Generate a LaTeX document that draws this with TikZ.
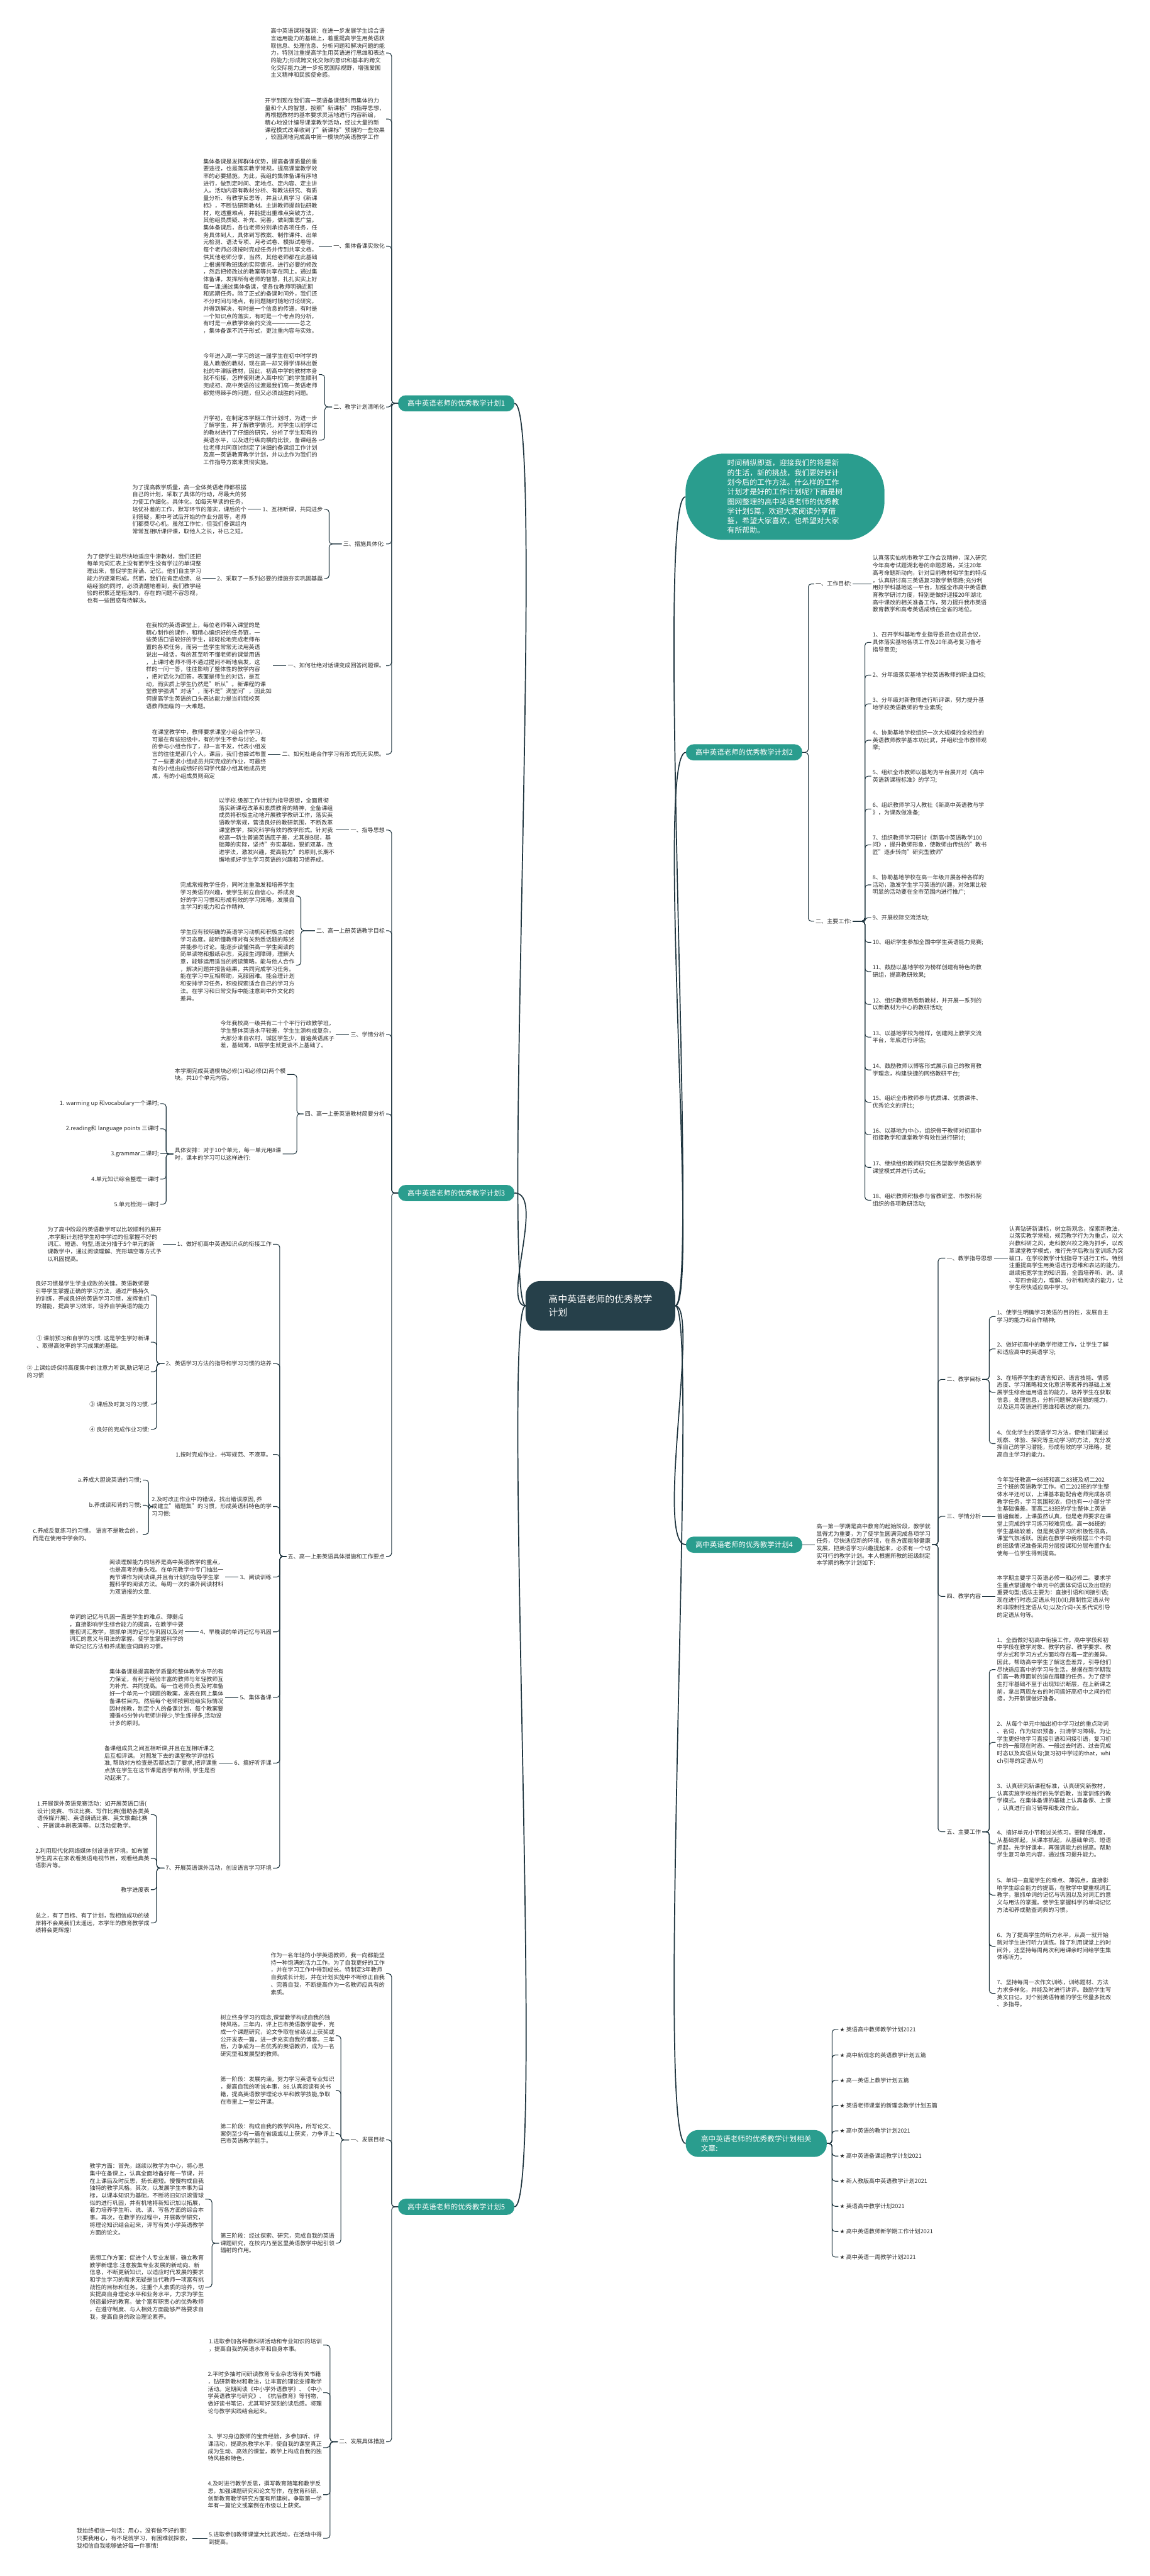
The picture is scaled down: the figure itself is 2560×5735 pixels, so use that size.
\documentclass[tikz,border=0pt]{standalone}
\usepackage{fontspec}
\setmainfont{Noto Sans CJK SC}
\newfontfamily\symfont{DejaVu Sans}
\definecolor{tealn}{RGB}{42,157,142}
\definecolor{darkn}{RGB}{38,64,74}
\definecolor{linec}{RGB}{30,52,62}
\definecolor{textc}{RGB}{45,45,45}
\newcommand\fs{\fontsize{12.7pt}{16.4pt}\selectfont}
\newcommand\fp{\fontsize{16pt}{20pt}\selectfont}
\newcommand\cnB[3]{\draw[lk] (#1) -- (#1 -| #2) -- (#3 -| #2) -- (#3);}
\newcommand\cnS[2]{\draw[lk] (#1) -- (#2);}
\tikzset{
  txt/.style={font=\fs, text=textc, inner xsep=3pt, inner ysep=1pt, align=left},
  plan/.style={fill=tealn, text=white, rounded corners=17pt, minimum width=259pt, minimum height=36pt, font=\fp, inner sep=0pt},
  lk/.style={draw=linec, line width=1.5pt, rounded corners=7pt},
  mainlk/.style={draw=linec, line width=2.4pt},
}
\begin{document}
\begin{tikzpicture}[x=1pt,y=-1pt]
\fill[white] (0,0) rectangle (2560,5735);
\useasboundingbox (0,0) rectangle (2560,5735);

% ---------------- central ----------------
\node[fill=darkn, text=white, rounded corners=32pt, minimum width=333pt, minimum height=110pt, align=left, font=\fontsize{21pt}{29pt}\selectfont] (c) at (1337,2907) {高中英语老师的优秀教学\\计划};

% ---------------- intro ----------------
\node[fill=tealn, text=white, rounded corners=85pt, minimum width=443pt, minimum height=192pt, align=left, font=\fontsize{16.6pt}{21.4pt}\selectfont] (intro) at (1748,1106) {时间稍纵即逝，迎接我们的将是新\\的生活，新的挑战，我们要好好计\\划今后的工作方法。什么样的工作\\计划才是好的工作计划呢?下面是树\\图网整理的高中英语老师的优秀教\\学计划5篇，欢迎大家阅读分享借\\鉴，希望大家喜欢，也希望对大家\\有所帮助。};

% ---------------- plan 1 ----------------
\node[plan] (p1) at (1016,898) {高中英语老师的优秀教学计划1};
\coordinate (t1) at (872,0);
\node[txt,anchor=east] (p1a) at (860,118) {高中英语课程强调：在进一步发展学生综合语\\言运用能力的基础上，着重提高学生用英语获\\取信息、处理信息、分析问题和解决问题的能\\力，特别注重提高学生用英语进行思维和表达\\的能力;形成跨文化交际的意识和基本的跨文\\化交际能力;进一步拓宽国际视野，增强爱国\\主义精神和民族使命感。};
\node[txt,anchor=east] (p1b) at (860,265) {开学到现在我们高一英语备课组利用集体的力\\量和个人的智慧，按照"新课标"的指导思想，\\再根据教材的基本要求灵活地进行内容新编，\\精心地设计编导课堂教学活动，经过大量的新\\课程模式改革收到了"新课标"预期的一些效果\\，较圆满地完成高中第一模块的英语教学工作};
\node[txt,anchor=east] (p1c) at (860,548) {一、集体备课实效化};
\node[txt,anchor=east] (p1c1) at (710,548) {集体备课是发挥群体优势，提高备课质量的重\\要途径，也是落实教学常规，提高课堂教学效\\率的必要措施。为此，我组的集体备课有序地\\进行，做到定时间、定地点、定内容、定主讲\\人。活动内容有教材分析、有教法研究、有质\\量分析、有教学反思等，并且认真学习《新课\\标》，不断钻研新教材。主讲教师提前钻研教\\材，吃透重难点，并能提出重难点突破方法，\\其他组员质疑、补充、完善，做到集思广益。\\集体备课后，各位老师分别承担各项任务，任\\务具体到人，具体到写教案、制作课件、出单\\元检测、语法专项、月考试卷、模拟试卷等。\\每个老师必须按时完成任务并传到共享文档，\\供其他老师分享，当然，其他老师都在此基础\\上根据所教班级的实际情况，进行必要的修改\\，然后把修改过的教案等共享在网上。通过集\\体备课，发挥所有老师的智慧，扎扎实实上好\\每一课;通过集体备课，使各位教师明确近期\\和远期任务。除了正式的备课时间外，我们还\\不分时间与地点，有问题随时随地讨论研究，\\并得到解决，有时是一个信息的传递，有时是\\一个知识点的落实，有时是一个考点的分析，\\有时是一点教学体会的交流——————总之\\，集体备课不流于形式，更注重内容与实效。};
\node[txt,anchor=east] (p1d) at (860,906) {二、教学计划清晰化};
\coordinate (t1d) at (723,0);
\node[txt,anchor=east] (p1d1) at (710,834) {今年进入高一学习的这一届学生在初中时学的\\是人教版的教材，现在高一却又得学译林出版\\社的牛津版教材，因此，初高中学的教材本身\\就不衔接，怎样使刚进入高中校门的学生顺利\\完成初、高中英语的过渡是我们高一英语老师\\都觉得棘手的问题，但又必须战胜的问题。};
\node[txt,anchor=east] (p1d2) at (710,980) {开学初，在制定本学期工作计划时，为进一步\\了解学生，并了解教学情况，对学生以前学过\\的教材进行了仔细的研究，分析了学生现有的\\英语水平，以及进行纵向横向比较，备课组各\\位老师共同商讨制定了详细的备课组工作计划\\及高一英语教育教学计划，并以此作为我们的\\工作指导方案来贯彻实施。};
\node[txt,anchor=east] (p1e) at (860,1211) {三、措施具体化:};
\coordinate (t1e) at (733,0);
\node[txt,anchor=east] (p1e1) at (722,1134) {1、互相听课，共同进步};
\node[txt,anchor=east] (p1e2) at (722,1288) {2、采取了一系列必要的措施夯实巩固基磊};
\node[txt,anchor=east] (p1e1a) at (552,1134) {为了提高教学质量，高一全体英语老师都根据\\自己的计划，采取了具体的行动，尽最大的努\\力使工作细化，具体化。如每天早读的任务，\\培优补差的工作，默写环节的落实，课后的个\\别答疑，期中考试后开始的作业分层等，老师\\们都费尽心机。虽然工作忙，但我们备课组内\\常常互相听课评课，取他人之长，补已之短。};
\node[txt,anchor=east] (p1e2a) at (451,1288) {为了使学生能尽快地适应牛津教材，我们还把\\每单元词汇表上没有而学生没有学过的单词整\\理出来，督促学生背诵、记忆。他们自主学习\\能力的逐渐形成。然而，我们在肯定成绩、总\\结经验的同时，必须清醒地看到，我们教学经\\验的积累还是粗浅的，存在的问题不容忽视，\\也有一些困惑有待解决。};
\node[txt,anchor=east] (p1f) at (860,1482) {一、如何杜绝对话课变成回答问题课。};
\node[txt,anchor=east] (p1f1) at (608,1482) {在我校的英语课堂上，每位老师带入课堂的是\\精心制作的课件，和精心编织好的任务链，一\\些英语口语较好的学生，能轻松地完成老师布\\置的各项任务，而另一些学生常常无法用英语\\说出一段话，有的甚至听不懂老师的课堂用语\\，上课时老师不得不通过提问不断地启发，这\\样的一问一答，往往影响了整体性的教学内容\\，把对话化为回答，表面是师生的对话，是互\\动，而实质上学生仍然是"听从"。新课程的课\\堂教学强调"对话"，而不是"满堂问"，因此如\\何提高学生英语的口头表达能力是当前我校英\\语教师面临的一大难题。};
\node[txt,anchor=east] (p1g) at (860,1679) {二、如何杜绝合作学习有形式而无实质。};
\node[txt,anchor=east] (p1g1) at (596,1679) {在课堂教学中，教师要求课堂小组合作学习，\\可是在有些班级中，有的学生不参与讨论，有\\的参与小组合作了，却一言不发，代表小组发\\言的往往是那几个人。课后，我们也尝试布置\\了一些要求小组成员共同完成的作业，可最终\\有的小组由成绩好的同学代替小组其他成员完\\成，有的小组成员则商定};

\foreach \n in {p1a,p1b,p1c,p1d,p1e,p1f,p1g} {\cnB{p1.west}{t1}{\n.east}}
\cnS{p1c.west}{p1c1.east}
\cnB{p1d.west}{t1d}{p1d1.east}
\cnB{p1d.west}{t1d}{p1d2.east}
\cnB{p1e.west}{t1e}{p1e1.east}
\cnB{p1e.west}{t1e}{p1e2.east}
\cnS{p1e1.west}{p1e1a.east}
\cnS{p1e2.west}{p1e2a.east}
\cnS{p1f.west}{p1f1.east}
\cnS{p1g.west}{p1g1.east}

% ---------------- plan 3 ----------------
\node[plan] (p3) at (1016,2656) {高中英语老师的优秀教学计划3};
\coordinate (t3) at (872,0);
\node[txt,anchor=east] (p3a) at (860,1848) {一、指导思想};
\node[txt,anchor=east] (p3a1) at (748,1848) {以学校.级部工作计划为指导思想，全面贯彻\\落实新课程改革和素质教育的精神，全备课组\\成员将积极主动地开展教学教研工作，落实英\\语教学常规，营造良好的教研氛围，不断改革\\课堂教学，探究科学有效的教学形式。针对我\\校高一新生普遍英语底子差，尤其是B层，基\\础薄的实际，坚持"夯实基础，狠抓双基，改\\进学法，激发兴趣，提高能力"的原则,长期不\\懈地抓好学生学习英语的兴趣和习惯养成。};
\node[txt,anchor=east] (p3b) at (860,2072) {二、高一上册英语教学目标};
\coordinate (t3b) at (670,0);
\node[txt,anchor=east] (p3b1) at (659,1995) {完成常规教学任务，同时注重激发和培养学生\\学习英语的兴趣，使学生树立自信心，养成良\\好的学习习惯和形成有效的学习策略，发展自\\主学习的能力和合作精神.};
\node[txt,anchor=east] (p3b2) at (659,2149) {学生应有较明确的英语学习动机和积极主动的\\学习态度。能听懂教师对有关熟悉话题的陈述\\并能参与讨论。能逐步读懂供高一学生阅读的\\简单读物和报纸杂志，克服生词障碍，理解大\\意，能够运用适当的阅读策略。能与他人合作\\，解决问题并报告结果，共同完成学习任务。\\能在学习中互相帮助，克服困难。能合理计划\\和安排学习任务，积极探索适合自己的学习方\\法。在学习和日常交际中能注意到中外文化的\\差异。};
\node[txt,anchor=east] (p3c) at (860,2303) {三、学情分析};
\node[txt,anchor=east] (p3c1) at (748,2303) {今年我校高一级共有二十个平行行政教学班，\\学生整体英语水平较差，学生生源构成复杂，\\大部分来自农村，城区学生少，普遍英语底子\\差，基础薄，B层学生就更谈不上基础了。};
\node[txt,anchor=east] (p3d) at (860,2480) {四、高一上册英语教材简要分析};
\coordinate (t3d) at (661,0);
\node[txt,anchor=west] (p3d1) at (386,2392) {本学期完成英语模块必修(1)和必修(2)两个模\\块。共10个单元内容。};
\node[txt,anchor=west] (p3d2) at (386,2569) {具体安排：对于10个单元，每一单元用8课\\时，课本的学习可以这样进行:};
\coordinate (t3d2) at (370,0);
\node[txt,anchor=east] (p3d2a) at (357,2457) {1. warming up 和vocabulary一个课时;};
\node[txt,anchor=east] (p3d2b) at (357,2513) {2.reading和 language points 三课时};
\node[txt,anchor=east] (p3d2c) at (357,2569) {3.grammar二课时;};
\node[txt,anchor=east] (p3d2d) at (357,2625) {4.单元知识综合整理一课时};
\node[txt,anchor=east] (p3d2e) at (357,2681) {5.单元检测一课时};
\node[txt,anchor=east] (p3e) at (860,3465) {五、高一上册英语具体措施和工作要点};
\coordinate (t3e) at (623,0);
\node[txt,anchor=east] (p3e1) at (608,2770) {1、做好初高中英语知识点的衔接工作};
\node[txt,anchor=east] (p3e1a) at (363,2770) {为了高中阶段的英语教学可以比较顺利的展开\\,本学期计划把学生初中学过的但掌握不好的\\词汇、短语、句型,语法分插于5个单元的新\\课教学中，通过阅读理解、完形填空等方式予\\以巩固提高。};
\node[txt,anchor=east] (p3e2) at (608,3036) {2、英语学习方法的指导和学习习惯的培养};
\coordinate (t3e2) at (349,0);
\node[txt,anchor=east] (p3e2a) at (336,2883) {良好习惯是学生学业成败的关键。英语教师要\\引导学生掌握正确的学习方法，通过严格持久\\的训练，养成良好的英语学习习惯，发挥他们\\的潜能，提高学习效率，培养自学英语的能力};
\node[txt,anchor=east] (p3e2b) at (336,2988) {① 课前预习和自学的习惯. 这是学生学好新课\\、取得高效率的学习成果的基础。};
\node[txt,anchor=east] (p3e2c) at (336,3054) {② 上课始终保持高度集中的注意力听课,勤记笔记\\的习惯};
\node[txt,anchor=east] (p3e2d) at (336,3126) {③ 课后及时复习的习惯.};
\node[txt,anchor=east] (p3e2e) at (336,3182) {④ 良好的完成作业习惯:};
\node[txt,anchor=east] (p3e3) at (608,3238) {1.按时完成作业，书写规范、不潦草。};
\node[txt,anchor=east] (p3e4) at (608,3354) {2.及时改正作业中的错误，找出错误原因, 养\\成建立"错题集"的习惯，形成英语科特色的学\\习习惯:};
\coordinate (t3e4) at (331,0);
\node[txt,anchor=east] (p3e4a) at (318,3295) {a.养成大胆说英语的习惯;};
\node[txt,anchor=east] (p3e4b) at (318,3351) {b.养成读和背的习惯;};
\node[txt,anchor=east] (p3e4c) at (318,3416) {c.养成反复练习的习惯。 语言不是教会的，\\而是在使用中学会的。};
\node[txt,anchor=east] (p3e5) at (608,3511) {3、阅读训练};
\node[txt,anchor=east] (p3e5a) at (501,3511) {阅读理解能力的培养是高中英语教学的重点，\\也是高考的重头戏。在单元教学中专门抽出一\\两节课作为阅读课,并且有计划的指导学生掌\\握科学的阅读方法。每周一次的课外阅读材料\\为双语报的文章.};
\node[txt,anchor=east] (p3e6) at (608,3633) {4、早晚读的单词记忆与巩固};
\node[txt,anchor=east] (p3e6a) at (412,3633) {单词的记忆与巩固一直是学生的难点、薄弱点\\，直接影响学生综合能力的提高，在教学中要\\重视词汇教学，狠抓单词的记忆与巩固以及对\\词汇的意义与用法的掌握。使学生掌握科学的\\单词记忆方法和养成勤查词典的习惯。};
\node[txt,anchor=east] (p3e7) at (608,3779) {5、集体备课};
\node[txt,anchor=east] (p3e7a) at (501,3779) {集体备课是提高教学质量和整体教学水平的有\\力保证，有利于经验丰富的教师与年轻教师互\\为补充、共同提高。每一位老师负责及时准备\\好一个单元一个课题的教案，发表在网上集体\\备课栏目内。然后每个老师按照班级实际情况\\因材施教，制定个人的备课计划，每个教案要\\遵循45分钟内老师讲得少,学生练得多,活动设\\计多的原则。};
\node[txt,anchor=east] (p3e8) at (608,3925) {6、搞好听评课};
\node[txt,anchor=east] (p3e8a) at (487,3925) {备课组成员之间互相听课,并且在互相听课之\\后互相评课。 对照发下去的课堂教学评估标\\准, 帮助对方检查是否都达到了要求,把评课重\\点放在学生在这节课是否学有所得, 学生是否\\动起来了。};
\node[txt,anchor=east] (p3e9) at (608,4159) {7、开展英语课外活动，创设语言学习环境};
\coordinate (t3e9) at (349,0);
\node[txt,anchor=east] (p3e9a) at (336,4040) {1.开展课外英语竞赛活动：如开展英语口语(\\设计)竞赛、书法比赛、写作比赛(借助各类英\\语传媒开展)、英语朗诵比赛、英文歌曲比赛\\、开展课本剧表演等。以活动促教学。};
\node[txt,anchor=east] (p3e9b) at (336,4137) {2.利用现代化网络媒体创设语言环境。如布置\\学生周末在家收看英语电视节目，观看经典英\\语影片等。};
\node[txt,anchor=east] (p3e9c) at (336,4207) {教学进度表};
\node[txt,anchor=east] (p3e9d) at (336,4281) {总之，有了目标、有了计划，我相信成功的彼\\岸将不会离我们太遥远，本学年的教育教学成\\绩将会更辉煌!};

\foreach \n in {p3a,p3b,p3c,p3d,p3e} {\cnB{p3.west}{t3}{\n.east}}
\cnS{p3a.west}{p3a1.east}
\cnB{p3b.west}{t3b}{p3b1.east}
\cnB{p3b.west}{t3b}{p3b2.east}
\cnS{p3c.west}{p3c1.east}
\cnB{p3d.west}{t3d}{p3d1.east}
\cnB{p3d.west}{t3d}{p3d2.east}
\foreach \n in {p3d2a,p3d2b,p3d2d,p3d2e} {\cnB{p3d2.west}{t3d2}{\n.east}}
\cnS{p3d2.west}{p3d2c.east}
\foreach \n in {p3e1,p3e2,p3e3,p3e4,p3e5,p3e6,p3e7,p3e8,p3e9} {\cnB{p3e.west}{t3e}{\n.east}}
\cnS{p3e1.west}{p3e1a.east}
\foreach \n in {p3e2a,p3e2b,p3e2c,p3e2d,p3e2e} {\cnB{p3e2.west}{t3e2}{\n.east}}
\foreach \n in {p3e4a,p3e4b,p3e4c} {\cnB{p3e4.west}{t3e4}{\n.east}}
\cnS{p3e5.west}{p3e5a.east}
\cnS{p3e6.west}{p3e6a.east}
\cnS{p3e7.west}{p3e7a.east}
\cnS{p3e8.west}{p3e8a.east}
\foreach \n in {p3e9a,p3e9b,p3e9c,p3e9d} {\cnB{p3e9.west}{t3e9}{\n.east}}

% ---------------- plan 5 ----------------
\node[plan] (p5) at (1016,4913) {高中英语老师的优秀教学计划5};
\coordinate (t5) at (872,0);
\node[txt,anchor=east] (p5a) at (860,4394) {作为一名年轻的小学英语教师，我一向都能坚\\持一种饱满的活力工作。为了自我更好的工作\\，并在学习工作中得到成长。特制定3年教师\\自我成长计划，并在计划实施中不断修正自我\\、完善自我，不断提高作为一名教师应具有的\\素质。};
\node[txt,anchor=east] (p5b) at (860,4764) {一、发展目标};
\coordinate (t5b) at (759,0);
\node[txt,anchor=east] (p5b1) at (748,4532) {树立终身学习的观念,课堂教学构成自我的独\\特风格。三年内，评上巴市英语教学能手，完\\成一个课题研究，论文争取在省级以上获奖或\\公开发表一篇，进一步充实自我的博客。三年\\后，力争成为一名优秀的英语教师，成为一名\\研究型和发展型的教师。};
\node[txt,anchor=east] (p5b2) at (748,4654) {第一阶段：发展内涵，努力学习英语专业知识\\，提高自我的听说本事，86.认真阅读有关书\\籍，提高英语教学理论水平和教学技能,争取\\在市里上一堂公开课。};
\node[txt,anchor=east] (p5b3) at (748,4750) {第二阶段：构成自我的教学风格，所写论文、\\案例至少有一篇在省级或以上获奖，力争评上\\巴市英语教学能手。};
\node[txt,anchor=east] (p5b4) at (748,4994) {第三阶段：经过探索、研究，完成自我的英语\\课题研究，在校内乃至区里英语教学中起引领\\辐射的作用。};
\coordinate (t5b4) at (472,0);
\node[txt,anchor=east] (p5b4a) at (457,4896) {教学方面：首先，继续以教学为中心，将心思\\集中在备课上，认真全面地备好每一节课，并\\在上课后及时反思，扬长避短。慢慢构成自我\\独特的教学风格。其次，以发展学生本事为目\\标，以课本知识为基础，不断将旧知识滚雪球\\似的进行巩固，并有机地将新知识加以拓展，\\着力培养学生听、说、读、写各方面的综合本\\事。再次，在教学的过程中，开展教学研究，\\将理论知识结合起来，评写有关小学英语教学\\方面的论文。};
\node[txt,anchor=east] (p5b4b) at (457,5092) {思想工作方面：促进个人专业发展，确立教育\\教学新理念.注意搜集专业发展的新动向、新\\信息，不断更新知识，以适应时代发展的要求\\和学生学习的需求无疑是当代教师一项富有挑\\战性的目标和任务。注重个人素质的培养，切\\实提高自身理论水平和业务水平，力求为学生\\创造最好的教育。做个富有职责心的优秀教师\\，在遵守制度、与人相处方面能够严格要求自\\我，提高自身的政治理论素养。};
\node[txt,anchor=east] (p5c) at (860,5436) {二、发展具体措施};
\coordinate (t5c) at (735,0);
\node[txt,anchor=east] (p5c1) at (720,5221) {1.进取参加各种教科研活动和专业知识的培训\\，提高自我的英语水平和自身本事。};
\node[txt,anchor=east] (p5c2) at (720,5327) {2.平时多抽时间研读教育专业杂志等有关书籍\\，钻研新教材和教法，让丰富的理论支撑教学\\活动。定期阅读《中小学外语教学》、《中小\\学英语教学与研究》、《杭后教育》等刊物，\\做好读书笔记，尤其写好深刻的读后感。将理\\论与教学实践结合起来。};
\node[txt,anchor=east] (p5c3) at (720,5449) {3、学习身边教师的宝贵经验，多参加听、评\\课活动，提高执教学水平，使自我的课堂真正\\成为生动、高效的课堂，教学上构成自我的独\\特风格和特色，};
\node[txt,anchor=east] (p5c4) at (720,5554) {4.及时进行教学反思，撰写教育随笔和教学反\\思，加强课题研究和论文写作，在教育科研、\\创新教育教学研究方面有所建树。争取第一学\\年有一篇论文或案例在市级以上获奖。};
\node[txt,anchor=east] (p5c5) at (720,5651) {5.进取参加教师课堂大比武活动，在活动中得\\到提高。};
\node[txt,anchor=east] (p5c5a) at (428,5651) {我始终相信一句话：用心，没有做不好的事!\\只要我用心，有不足就学习，有困难就探索，\\我相信自我能够做好每一件事情!};

\foreach \n in {p5a,p5b,p5c} {\cnB{p5.west}{t5}{\n.east}}
\foreach \n in {p5b1,p5b2,p5b3,p5b4} {\cnB{p5b.west}{t5b}{\n.east}}
\foreach \n in {p5b4a,p5b4b} {\cnB{p5b4.west}{t5b4}{\n.east}}
\foreach \n in {p5c1,p5c2,p5c3,p5c4,p5c5} {\cnB{p5c.west}{t5c}{\n.east}}
\cnS{p5c5.west}{p5c5a.east}

% ---------------- plan 2 ----------------
\node[plan] (p2) at (1657,1675) {高中英语老师的优秀教学计划2};
\coordinate (t2) at (1800,0);
\node[txt,anchor=west] (p2a) at (1813,1300) {一、工作目标:};
\node[txt,anchor=west] (p2a1) at (1940,1300) {认真落实仙桃市教学工作会议精神，深入研究\\今年高考试题湖北卷的命题思路，关注20年\\高考命题新动向，针对目前教材和学生的特点\\，认真研讨高三英语复习教学新思路;充分利\\用好学科基地这一平台，加强全市高中英语教\\育教学研讨力度，特别是做好迎接20年湖北\\高中课改的相关准备工作，努力提升我市英语\\教育教学和高考英语成绩在全省的地位。};
\node[txt,anchor=west] (p2b) at (1813,2051) {二、主要工作:};
\coordinate (t2b) at (1926,0);
\node[txt,anchor=west] (q1) at (1940,1430) {1、召开学科基地专业指导委员会成员会议，\\具体落实基地各项工作及20年高考复习备考\\指导意见;};
\node[txt,anchor=west] (q2) at (1940,1503) {2、分年级落实基地学校英语教师的职业目标;};
\node[txt,anchor=west] (q3) at (1940,1567) {3、分年级对新教师进行听评课，努力提升基\\地学校英语教师的专业素质;};
\node[txt,anchor=west] (q4) at (1940,1648) {4、协助基地学校组织一次大规模的全校性的\\英语教师教学基本功比武，并组织全市教师观\\摩;};
\node[txt,anchor=west] (q5) at (1940,1728) {5、组织全市教师以基地为平台展开对《高中\\英语新课程标准》的学习;};
\node[txt,anchor=west] (q6) at (1940,1801) {6、组织教师学习人教社《新高中英语教与学\\》，为课改做准备;};
\node[txt,anchor=west] (q7) at (1940,1881) {7、组织教师学习研讨《新高中英语教学100\\问》，提升教师形象，使教师由传统的"教书\\匠"逐步转向"研究型教师"};
\node[txt,anchor=west] (q8) at (1940,1970) {8、协助基地学校在高一年级开展各种各样的\\活动，激发学生学习英语的兴趣，对效果比较\\明显的活动要在全市范围内进行推广;};
\node[txt,anchor=west] (q9) at (1940,2043) {9、开展校际交流活动;};
\node[txt,anchor=west] (q10) at (1940,2098) {10、组织学生参加全国中学生英语能力竞赛;};
\node[txt,anchor=west] (q11) at (1940,2163) {11、鼓励以基地学校为榜样创建有特色的教\\研组，提高教研效果;};
\node[txt,anchor=west] (q12) at (1940,2236) {12、组织教师熟悉新教材，并开展一系列的\\以新教材为中心的教研活动;};
\node[txt,anchor=west] (q13) at (1940,2309) {13、以基地学校为榜样，创建网上教学交流\\平台，年底进行评估;};
\node[txt,anchor=west] (q14) at (1940,2382) {14、鼓励教师以博客形式展示自己的教育教\\学理念，构建快捷的网络教研平台;};
\node[txt,anchor=west] (q15) at (1940,2454) {15、组织全市教师参与优质课、优质课件、\\优秀论文的评比;};
\node[txt,anchor=west] (q16) at (1940,2526) {16、以基地为中心，组织骨干教师对初高中\\衔接教学和课堂教学有效性进行研讨;};
\node[txt,anchor=west] (q17) at (1940,2599) {17、继续组织教师研究任务型教学英语教学\\课堂模式并进行试点;};
\node[txt,anchor=west] (q18) at (1940,2672) {18、组织教师积极参与省教研室、市教科院\\组织的各项教研活动;};

\foreach \n in {p2a,p2b} {\cnB{p2.east}{t2}{\n.west}}
\cnS{p2a.east}{p2a1.west}
\foreach \n in {q1,q2,q3,q4,q5,q6,q7,q8,q9,q10,q11,q12,q13,q14,q15,q16,q17,q18} {\cnB{p2b.east}{t2b}{\n.west}}

% ---------------- plan 4 ----------------
\node[plan] (p4) at (1657,3439) {高中英语老师的优秀教学计划4};
\node[txt,anchor=west] (p4t) at (1815,3439) {高一第一学期是高中教育的起始阶段，教学就\\显得尤为重要，为了使学生圆满完成各项学习\\任务，尽快适应新的环境，在各方面能够健康\\发展，把英语学习兴趣提起来，必须有一个切\\实可行的教学计划。本人根据所教的班级制定\\本学期的教学计划如下:};
\coordinate (t4) at (2089,0);
\node[txt,anchor=west] (p4a) at (2105,2801) {一、教学指导思想};
\node[txt,anchor=west] (p4a1) at (2244,2801) {认真钻研新课标，树立新观念，探索新教法，\\以落实教学常规，规范教学行为为重点，以大\\兴教科研之风，走科教兴校之路为抓手，以改\\革课堂教学模式，推行先学后教当堂训练为突\\破口，在学校教学计划指导下进行工作。特别\\注重提高学生用英语进行思维和表达的能力。\\继续拓宽学生的知识面，全面培养听、说、读\\、写四会能力，理解、分析和阅读的能力，让\\学生尽快适应高中学习。};
\node[txt,anchor=west] (p4b) at (2105,3071) {二、教学目标};
\coordinate (t4b) at (2203,0);
\node[txt,anchor=west] (p4b1) at (2217,2931) {1、使学生明确学习英语的目的性，发展自主\\学习的能力和合作精神;};
\node[txt,anchor=west] (p4b2) at (2217,3003) {2、做好初高中的教学衔接工作，让学生了解\\和适应高中的英语学习;};
\node[txt,anchor=west] (p4b3) at (2217,3100) {3、在培养学生的语言知识、语言技能、情感\\态度、学习策略和文化意识等素养的基础上发\\展学生综合运用语言的能力，培养学生在获取\\信息，处理信息，分析问题解决问题的能力，\\以及运用英语进行思维和表达的能力。};
\node[txt,anchor=west] (p4b4) at (2217,3214) {4、优化学生的英语学习方法，使他们能通过\\观察、体验、探究等主动学习的方法，充分发\\挥自己的学习潜能，形成有效的学习策略，提\\高自主学习的能力。};
\node[txt,anchor=west] (p4c) at (2105,3376) {三、学情分析};
\node[txt,anchor=west] (p4c1) at (2217,3376) {今年我任教高一86班和高二83班及初二202\\三个班的英语教学工作。初二202班的学生整\\体水平还可以，上课基本能配合老师完成各项\\教学任务，学习氛围较浓，但也有一小部分学\\生基础偏差。而高二83班的学生整体上英语\\普遍偏差，上课虽然认真，但是老师要求在课\\堂上完成的学习练习较难完成。高一86班的\\学生基础较差，但是英语学习的积极性很高，\\课堂气氛活跃。因此在教学中我根据三个不同\\的班级情况准备采用分层授课和分层布置作业\\使每一位学生得到提高。};
\node[txt,anchor=west] (p4d) at (2105,3554) {四、教学内容};
\node[txt,anchor=west] (p4d1) at (2217,3554) {本学期主要学习英语必修一和必修二。要求学\\生重点掌握每个单元中的黑体词语以及出现的\\重要句型;语法主要为：直接引语和间接引语;\\现在进行时态;定语从句(I)(II);限制性定语从句\\和非限制性定语从句;以及介词+关系代词引导\\的定语从句等。};
\node[txt,anchor=west] (p4e) at (2105,4078) {五、主要工作};
\coordinate (t4e) at (2203,0);
\node[txt,anchor=west] (p4e1) at (2217,3717) {1、全面做好初高中衔接工作。高中学段和初\\中学段在教学对象、教学内容、教学要求、教\\学方式和学习方式方面均存在着一定的差异。\\因此，帮助高中学生了解这些差异，引导他们\\尽快适应高中的学习与生活，是摆在新学期我\\们高一教师面前的迫在眉睫的任务。为了使学\\生打牢基础不至于出现知识断层，在上新课之\\前，拿出两周左右的时间搞好高初中之间的衔\\接，为开新课做好准备。};
\node[txt,anchor=west] (p4e2) at (2217,3879) {2、从每个单元中抽出初中学习过的重点动词\\、名词，作为知识预备，扫清学习障碍。为让\\学生更好地学习直接引语和间接引语，复习初\\中的一般现在时态、一般过去时态、过去完成\\时态以及宾语从句;复习初中学过的that，whi\\ch引导的定语从句};
\node[txt,anchor=west] (p4e3) at (2217,4001) {3、认真研究新课程标准，认真研究新教材，\\认真实施学校推行的先学后教，当堂训练的教\\学模式。在集体备课的基础上认真备课、上课\\，认真进行自习辅导和批改作业。};
\node[txt,anchor=west] (p4e4) at (2217,4105) {4、搞好单元小节和过关练习。要降低难度，\\从基础抓起，从课本抓起，从基础单词、短语\\抓起，先学好课本，再强调能力的提高。帮助\\学生复习单元内容，通过练习提升能力。};
\node[txt,anchor=west] (p4e5) at (2217,4219) {5、单词一直是学生的难点、薄弱点，直接影\\响学生综合能力的提高，在教学中要重视词汇\\教学，狠抓单词的记忆与巩固以及对词汇的意\\义与用法的掌握。使学生掌握科学的单词记忆\\方法和养成勤查词典的习惯。};
\node[txt,anchor=west] (p4e6) at (2217,4333) {6、为了提高学生的听力水平，从高一就开始\\就对学生进行听力训练。除了利用课堂上的时\\间外，还坚持每周两次利用课余时间给学生集\\体练听力。};
\node[txt,anchor=west] (p4e7) at (2217,4438) {7、坚持每周一次作文训练，训练题材、方法\\力求多样化，并能及时进行讲评。鼓励学生写\\英文日记，对个别英语特差的学生尽量多批改\\、多指导。};

\cnS{p4.east}{p4t.west}
\foreach \n in {p4a,p4b,p4c,p4d,p4e} {\cnB{p4t.east}{t4}{\n.west}}
\cnS{p4a.east}{p4a1.west}
\foreach \n in {p4b1,p4b2,p4b3,p4b4} {\cnB{p4b.east}{t4b}{\n.west}}
\cnS{p4c.east}{p4c1.west}
\cnS{p4d.east}{p4d1.west}
\foreach \n in {p4e1,p4e2,p4e3,p4e4,p4e5,p4e6,p4e7} {\cnB{p4e.east}{t4e}{\n.west}}

% ---------------- related ----------------
\node[fill=tealn, text=white, rounded corners=28pt, minimum width=314pt, minimum height=60pt, align=left, font=\fontsize{16.4pt}{21pt}\selectfont] (rel) at (1684,4772) {高中英语老师的优秀教学计划相关\\文章:};
\coordinate (tr) at (1853,0);
\node[txt,anchor=west] (r1) at (1867,4518) {{\symfont ★} 英语高中教师教学计划2021};
\node[txt,anchor=west] (r2) at (1867,4575) {{\symfont ★} 高中新观念的英语教学计划五篇};
\node[txt,anchor=west] (r3) at (1867,4631) {{\symfont ★} 高一英语上教学计划五篇};
\node[txt,anchor=west] (r4) at (1867,4687) {{\symfont ★} 英语老师课堂的新理念教学计划五篇};
\node[txt,anchor=west] (r5) at (1867,4744) {{\symfont ★} 高中英语的教学计划2021};
\node[txt,anchor=west] (r6) at (1867,4800) {{\symfont ★} 高中英语备课组教学计划2021};
\node[txt,anchor=west] (r7) at (1867,4856) {{\symfont ★} 新人教版高中英语教学计划2021};
\node[txt,anchor=west] (r8) at (1867,4912) {{\symfont ★} 英语高中教学计划2021};
\node[txt,anchor=west] (r9) at (1867,4968) {{\symfont ★} 高中英语教师新学期工作计划2021};
\node[txt,anchor=west] (r10) at (1867,5025) {{\symfont ★} 高中英语一周教学计划2021};
\foreach \n in {r1,r2,r3,r4,r5,r6,r7,r8,r9,r10} {\cnB{rel.east}{tr}{\n.west}}

% ---------------- main connectors ----------------
\draw[mainlk] (c.west) .. controls +(-55,0) and +(70,0) .. (p1.east);
\draw[mainlk] (c.west) .. controls +(-55,0) and +(70,0) .. (p3.east);
\draw[mainlk] (c.west) .. controls +(-55,0) and +(70,0) .. (p5.east);
\draw[mainlk] (c.east) .. controls +(55,0) and +(-70,0) .. (intro.west);
\draw[mainlk] (c.east) .. controls +(55,0) and +(-70,0) .. (p2.west);
\draw[mainlk] (c.east) .. controls +(55,0) and +(-70,0) .. (p4.west);
\draw[mainlk] (c.east) .. controls +(55,0) and +(-70,0) .. (rel.west);
\end{tikzpicture}
\end{document}
